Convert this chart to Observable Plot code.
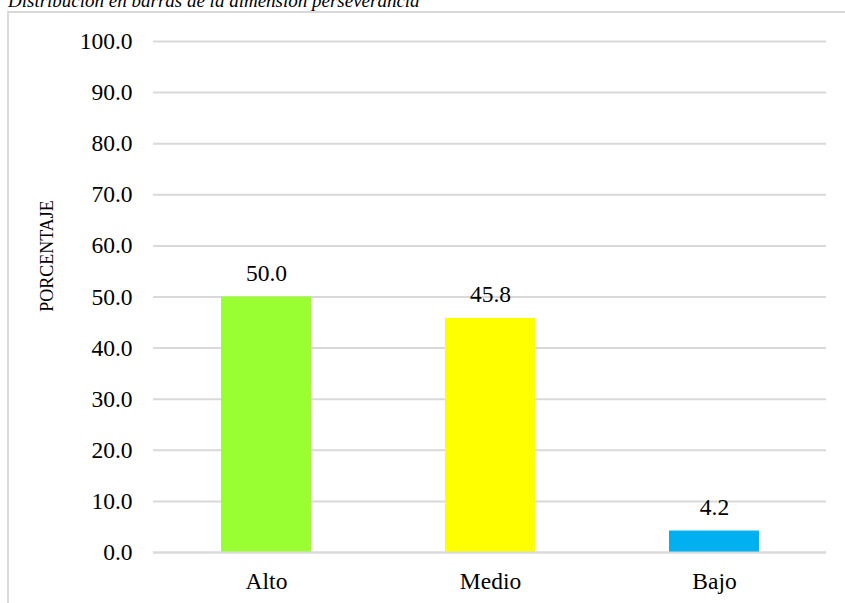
<!DOCTYPE html>
<html>
<head>
<meta charset="utf-8">
<script src="https://cdn.jsdelivr.net/npm/d3@7"></script>
<script src="https://cdn.jsdelivr.net/npm/@observablehq/plot@0.6"></script>
<style>
  html, body { margin: 0; padding: 0; background: #fff; overflow: hidden; }
  #wrap { position: relative; width: 845px; height: 603px; overflow: hidden; }
  #frame { position: absolute; left: 7px; top: 11px; width: 900px; height: 700px;
           border-top: 2px solid #d9d9d9; border-left: 2px solid #d9d9d9; box-sizing: border-box; }
  #title { position: absolute; left: 8px; top: -9px; margin: 0;
           font-family: 'Liberation Serif', serif; font-style: italic;
           font-size: 19px; font-weight: normal; color: #000; white-space: nowrap; line-height: 1; }
  #chart { position: absolute; left: 0; top: 0; }
  #chart svg text { font-family: 'Liberation Serif', serif; }
</style>
</head>
<body>
<div id="wrap">
  <div id="frame"></div>
  <div id="title">Distribución en barras de la dimensión perseverancia</div>
  <div id="chart"></div>
</div>
<script>
const categorias = ["Alto", "Medio", "Bajo"];
const porcentajes = [50.0, 45.8, 4.2];
const colores = ["#99ff33", "#ffff00", "#00b0f0"];
const yTicks = [0, 10, 20, 30, 40, 50, 60, 70, 80, 90, 100];
const tituloY = "PORCENTAJE";

const datos = categorias.map((c, i) => ({cat: c, val: porcentajes[i]}));
const fmt = d3.format(".1f");
const serif = "Liberation Serif";

const chart = Plot.plot({
  width: 845,
  height: 603,
  marginTop: 41,
  marginBottom: 51,
  marginLeft: 153,
  marginRight: 19,
  style: {
    fontFamily: serif,
    fontSize: "23.5px",
    background: "transparent",
    color: "#000"
  },
  x: {domain: categorias, paddingInner: 0.6, paddingOuter: 0.3, label: null},
  y: {domain: [0, 100], label: null},
  color: {domain: categorias, range: colores},
  marks: [
    Plot.gridY(yTicks, {stroke: "#d9d9d9", strokeOpacity: 1, strokeWidth: 2}),
    Plot.barY(datos, {x: "cat", y: "val", fill: "cat"}),
    Plot.ruleY([0], {stroke: "#d9d9d9", strokeWidth: 2}),
    Plot.text(datos, {x: "cat", y: "val", text: d => fmt(d.val), dy: -24, fontSize: 23.5, fontFamily: serif}),
    Plot.axisY({ticks: yTicks, tickFormat: fmt, tickSize: 0, tickPadding: 21, fontFamily: serif,
                fontSize: 23.5, label: null}),
    Plot.text([tituloY], {frameAnchor: "left", textAnchor: "middle", dx: -106, dy: -41, rotate: -90,
                          fontSize: 18, fontFamily: serif}),
    Plot.axisX({tickSize: 0, tickPadding: 20, label: null, fontSize: 23.5, fontFamily: serif})
  ]
});
document.getElementById("chart").appendChild(chart);
</script>
</body>
</html>
